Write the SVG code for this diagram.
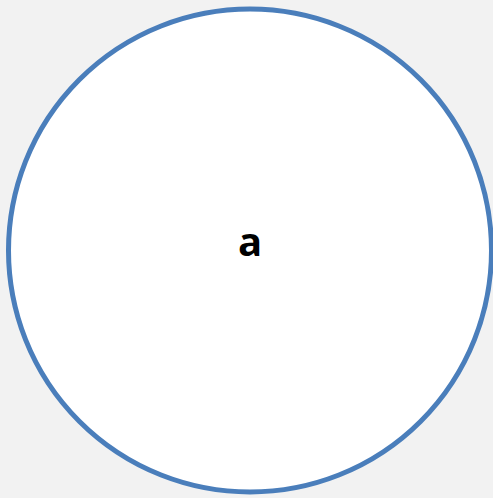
<svg xmlns="http://www.w3.org/2000/svg" width="493" height="498" viewBox="0 0 493 498">
<style>
.node{fill:#ffffff;stroke:#4a7ebb;stroke-width:5}
.lbl{font-family:"Open Sans","Liberation Sans",sans-serif;font-weight:bold;font-size:40px;fill:#000000;text-anchor:middle}
</style>
<rect width="493" height="498" fill="#f2f2f2"/>
<g id="connectors"></g>
<g id="node-a">
<circle class="node" cx="250" cy="250.5" r="241.5"/>
<text class="lbl" x="250" y="256">a</text>
</g>
</svg>
